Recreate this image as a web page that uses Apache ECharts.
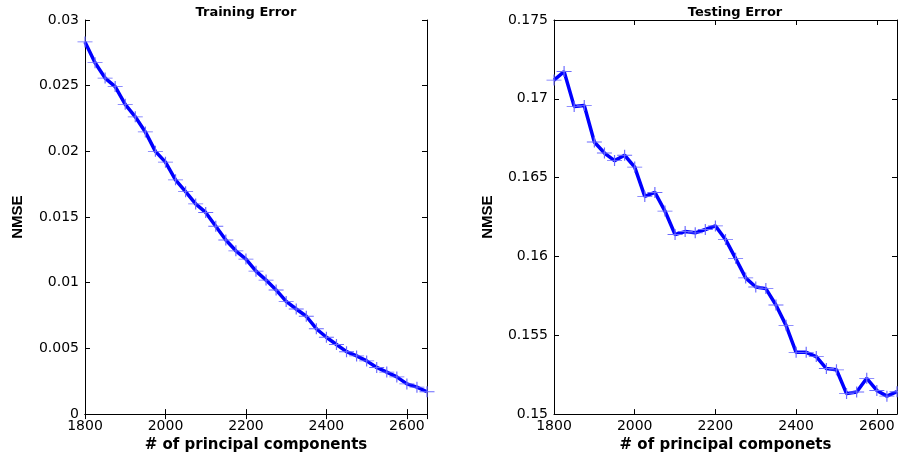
<!DOCTYPE html>
<html>
<head>
<meta charset="utf-8">
<script src="https://cdn.jsdelivr.net/npm/echarts@6/dist/echarts.min.js"></script>
<style>
  html, body { margin: 0; padding: 0; background: #fff; }
  #main { width: 898px; height: 458px; }
</style>
</head>
<body>
<div id="main"></div>
<script>
// number of principal components, every 25 from 1800 to 2650
var components = [1800,1825,1850,1875,1900,1925,1950,1975,2000,2025,2050,2075,2100,2125,2150,2175,2200,2225,
                  2250,2275,2300,2325,2350,2375,2400,2425,2450,2475,2500,2525,2550,2575,2600,2625,2650];
var trainErr = [0.02833,0.02675,0.02558,0.02493,0.02358,0.02263,0.02148,0.0200,0.01918,0.01783,0.01693,0.0160,
                0.01535,0.0143,0.01325,0.01243,0.0118,0.01088,0.0102,0.00945,0.00858,0.0080,0.00745,0.0065,
                0.00585,0.0053,0.00475,0.00443,0.00405,0.00355,0.0032,0.00283,0.0023,0.00205,0.0017];
var testErr = [0.17119,0.17173,0.16952,0.16958,0.16726,0.16656,0.16608,0.16642,0.16567,0.16381,0.16406,0.16288,
               0.16139,0.16158,0.1615,0.16171,0.16194,0.16108,0.15988,0.15864,0.15806,0.15796,0.15692,0.15563,
               0.15392,0.15392,0.15365,0.15289,0.15281,0.1513,0.1514,0.15227,0.1515,0.15114,0.15142];

var myChart = echarts.init(document.getElementById('main'));
var font = 'DejaVu Sans, sans-serif';

function pairs(ys) {
  return components.map(function (x, i) { return [x, ys[i]]; });
}

// bottom/left axes with labels, top/right mirrors with inward ticks only
function xAxes(gi, name) {
  return [{
    type: 'value', gridIndex: gi, min: 1800, max: 2650, interval: 200,
    name: name, nameLocation: 'middle', nameGap: 17,
    nameTextStyle: { fontFamily: font, fontWeight: 'bold', fontSize: 15, color: '#000' },
    axisLine: { show: true, lineStyle: { color: '#000', width: 1 } },
    axisTick: { show: true, inside: true, length: 5, lineStyle: { color: '#000' } },
    axisLabel: { fontFamily: font, fontSize: 14, color: '#000', margin: 5, showMaxLabel: false,
                 formatter: function (v) { return String(v); } },
    splitLine: { show: false }
  }, {
    type: 'value', gridIndex: gi, position: 'top', min: 1800, max: 2650, interval: 200,
    axisLine: { show: true, lineStyle: { color: '#000', width: 1 } },
    axisTick: { show: true, inside: true, length: 5, lineStyle: { color: '#000' } },
    axisLabel: { show: false }, splitLine: { show: false }
  }];
}
function yAxes(gi, min, max) {
  return [{
    type: 'value', gridIndex: gi, min: min, max: max, interval: 0.005,
    name: 'NMSE', nameLocation: 'middle', nameGap: gi === 0 ? 60 : 59, nameRotate: 90,
    nameTextStyle: { fontFamily: 'Liberation Sans Narrow, Liberation Sans, sans-serif',
                     fontWeight: 'bold', fontSize: 15, color: '#000' },
    axisLine: { show: true, lineStyle: { color: '#000', width: 1 } },
    axisTick: { show: true, inside: true, length: 5, lineStyle: { color: '#000' } },
    axisLabel: { fontFamily: font, fontSize: 14, color: '#000', margin: 6,
                 formatter: function (v) { return +v.toFixed(3) + ''; } },
    splitLine: { show: false }
  }, {
    type: 'value', gridIndex: gi, position: 'right', min: min, max: max, interval: 0.005,
    axisLine: { show: true, lineStyle: { color: '#000', width: 1 } },
    axisTick: { show: true, inside: true, length: 5, lineStyle: { color: '#000' } },
    axisLabel: { show: false }, splitLine: { show: false }
  }];
}

var plusMark = 'path://M0,5L10,5M5,0L5,10';
function lineSeries(gi, ys) {
  return {
    type: 'line', xAxisIndex: gi * 2, yAxisIndex: gi * 2,
    data: pairs(ys),
    symbol: plusMark, symbolSize: [15, 11], showSymbol: true,
    lineStyle: { color: '#0000ff', width: 3.5 },
    itemStyle: { color: 'rgba(0,0,0,0)', borderColor: '#6a6aff', borderWidth: 1 },
    z: 3, animation: false
  };
}

option = {
  backgroundColor: '#fff',
  title: [
    { text: 'Training Error', left: 241, top: 1, textAlign: 'center',
      textStyle: { fontFamily: font, fontWeight: 'bold', fontSize: 13, color: '#000' } },
    { text: 'Testing Error', left: 730, top: 1, textAlign: 'center',
      textStyle: { fontFamily: font, fontWeight: 'bold', fontSize: 13, color: '#000' } }
  ],
  grid: [
    { left: 85, top: 20, width: 342, height: 400 },
    { left: 554, top: 20, width: 343, height: 400 }
  ],
  xAxis: xAxes(0, '# of principal components').concat(xAxes(1, '# of principal componets')),
  yAxis: yAxes(0, 0, 0.03).concat(yAxes(1, 0.15, 0.175)),
  series: [lineSeries(0, trainErr), lineSeries(1, testErr)]
};
myChart.setOption(option);
</script>
</body>
</html>
